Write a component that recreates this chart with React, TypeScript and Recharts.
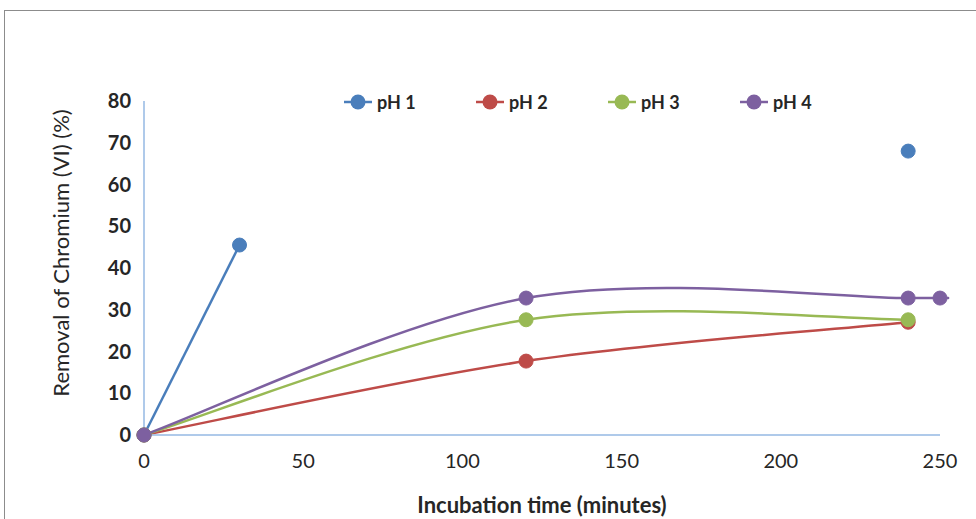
import { Label, Line, LineChart, XAxis, YAxis } from "recharts";

type Pt = { t: number; v: number | null };

// incubation time (minutes) → removal of Cr(VI) (%)
const ph1: Pt[] = [
  { t: 0, v: 0 },
  { t: 30, v: 45.5 },
  { t: 120, v: null },
  { t: 240, v: 68 },
];
const ph2: Pt[] = [
  { t: 0, v: 0 },
  { t: 120, v: 17.7 },
  { t: 240, v: 27 },
];
const ph3: Pt[] = [
  { t: 0, v: 0 },
  { t: 120, v: 27.6 },
  { t: 240, v: 27.6 },
];
const ph4: Pt[] = [
  { t: 0, v: 0 },
  { t: 120, v: 32.8 },
  { t: 240, v: 32.8 },
  { t: 250, v: 32.8 },
];

const xTicks = [0, 50, 100, 150, 200, 250];
const yTicks = [0, 10, 20, 30, 40, 50, 60, 70, 80];

const series = [
  { name: "pH 1", data: ph1, color: "#4A7EBB" },
  { name: "pH 2", data: ph2, color: "#BE4B48" },
  { name: "pH 3", data: ph3, color: "#98B954" },
  { name: "pH 4", data: ph4, color: "#7D60A0" },
];

const FONT = "Lato, 'Open Sans', sans-serif";
const AXIS = "#95B8E3";

// Excel-like smoothed line (Catmull-Rom as cubic beziers)
const excelSmooth = (context: any) => {
  let pts: number[][] = [];
  return {
    areaStart() {},
    areaEnd() {},
    lineStart() {
      pts = [];
    },
    point(x: number, y: number) {
      pts.push([+x, +y]);
    },
    lineEnd() {
      const n = pts.length;
      if (!n) return;
      context.moveTo(pts[0][0], pts[0][1]);
      for (let i = 0; i < n - 1; i++) {
        const p0 = pts[Math.max(i - 1, 0)];
        const p1 = pts[i];
        const p2 = pts[i + 1];
        const p3 = pts[Math.min(i + 2, n - 1)];
        context.bezierCurveTo(
          p1[0] + (p2[0] - p0[0]) / 6,
          p1[1] + (p2[1] - p0[1]) / 6,
          p2[0] - (p3[0] - p1[0]) / 6,
          p2[1] - (p3[1] - p1[1]) / 6,
          p2[0],
          p2[1]
        );
      }
    },
  };
};

const YTitle = (props: any) => {
  const { viewBox } = props;
  const x = viewBox.x + 20;
  const y = viewBox.y + viewBox.height / 2 - 15;
  return (
    <text
      x={x}
      y={y}
      transform={`rotate(-90, ${x}, ${y})`}
      textAnchor="middle"
      dominantBaseline="central"
      fontFamily={FONT}
      fontSize={22}
      fill="#262626"
    >
      Removal of Chromium (VI) (%)
    </text>
  );
};

export default function App() {
  return (
    <div style={{ position: "absolute", left: 0, top: 0, width: 976, height: 519, overflow: "hidden", background: "#fff" }}>
      <div
        style={{
          position: "absolute",
          left: 4,
          top: 10,
          width: 990,
          height: 530,
          border: "1px solid #8c8c8c",
        }}
      />
      <LineChart
        width={976}
        height={519}
        margin={{ top: 101, right: 36, bottom: 4, left: 40 }}
        style={{ position: "absolute", left: 0, top: 0 }}
      >
        <XAxis
          type="number"
          dataKey="t"
          domain={[0, 250]}
          ticks={xTicks}
          height={80}
          axisLine={{ stroke: AXIS, strokeWidth: 1.5 }}
          tickLine={false}
          tickMargin={13}
          tick={{ fontFamily: FONT, fontSize: 20, fill: "#262626" }}
        >
          <Label
            value="Incubation time (minutes)"
            position="insideBottom"
            offset={2}
            style={{ fontFamily: FONT, fontSize: 22, fontWeight: 700, fill: "#262626" }}
          />
        </XAxis>
        <YAxis
          type="number"
          domain={[0, 80]}
          ticks={yTicks}
          width={104}
          axisLine={{ stroke: AXIS, strokeWidth: 1.5 }}
          tickLine={false}
          tickMargin={7}
          tick={{ fontFamily: FONT, fontSize: 20, fontWeight: 700, fill: "#262626" }}
          label={<YTitle />}
        />
        {series.map((s) => (
          <Line
            key={s.name}
            data={s.data}
            dataKey="v"
            name={s.name}
            type={excelSmooth as any}
            stroke={s.color}
            strokeWidth={2.5}
            dot={{ r: 7, fill: s.color, stroke: s.color, strokeWidth: 1 }}
            activeDot={false}
            isAnimationActive={false}
          />
        ))}
      </LineChart>
      <div
        style={{
          position: "absolute",
          left: 344,
          top: 90,
          display: "flex",
          fontFamily: FONT,
          fontSize: 18,
          fontWeight: 700,
          color: "#262626",
        }}
      >
        {series.map((s) => (
          <div key={s.name} style={{ display: "flex", alignItems: "center", width: 132, height: 24 }}>
            <svg width={28} height={18} style={{ marginRight: 5 }}>
              <line x1={0} y1={9} x2={28} y2={9} stroke={s.color} strokeWidth={2.5} />
              <circle cx={14} cy={9} r={7.5} fill={s.color} />
            </svg>
            <span>{s.name}</span>
          </div>
        ))}
      </div>
    </div>
  );
}
